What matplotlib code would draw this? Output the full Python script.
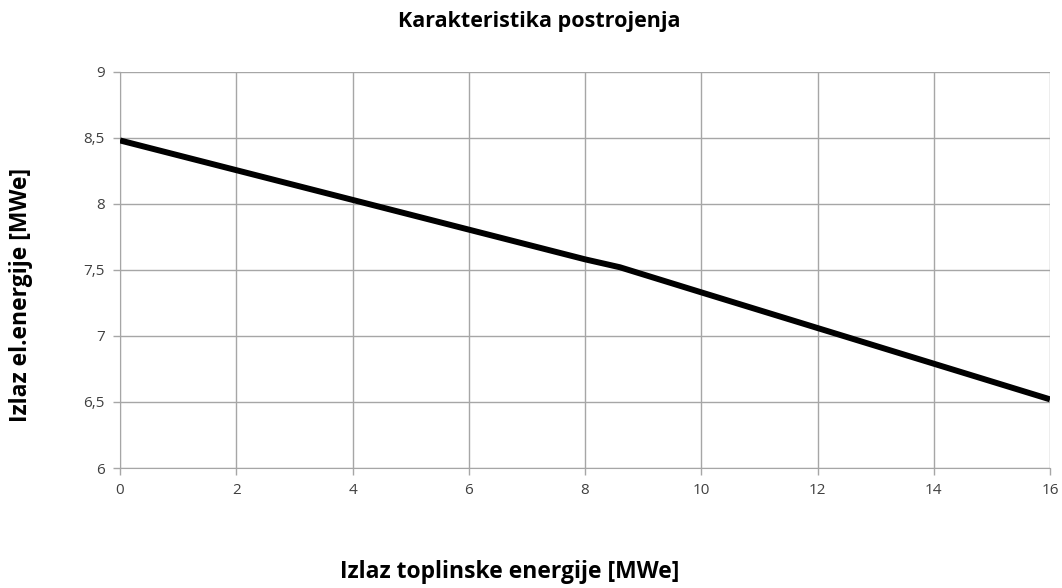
import matplotlib.pyplot as plt
from matplotlib.ticker import FuncFormatter

# Karakteristika postrojenja - ocitane tocke s grafa
toplina = [0, 4, 8, 8.6, 10, 12, 14, 16]
el_energija = [8.48, 8.03, 7.58, 7.52, 7.33, 7.06, 6.79, 6.52]

x_ticks = list(range(0, 17, 2))
y_ticks = [6, 6.5, 7, 7.5, 8, 8.5, 9]

plt.rcParams['font.family'] = ['Open Sans', 'DejaVu Sans']

fig = plt.figure(figsize=(10.62, 5.88), dpi=100)
ax = fig.add_axes([0.113, 0.204, 0.8757, 0.674])

ax.plot(toplina, el_energija, color='black', linewidth=4.3, solid_capstyle='butt', zorder=3)

ax.set_xlim(0, 16)
ax.set_ylim(6, 9)
ax.set_xticks(x_ticks)
ax.set_yticks(y_ticks)
ax.yaxis.set_major_formatter(FuncFormatter(lambda v, p: f"{v:g}".replace('.', ',')))
ax.grid(True, color='#a6a6a6', linewidth=1)
ax.tick_params(colors='#a6a6a6', labelcolor='#404040', labelsize=11, length=5, width=1, pad=6)
for s in ['top', 'right']:
    ax.spines[s].set_visible(False)
for s in ['left', 'bottom']:
    ax.spines[s].set_color('#a6a6a6')

fig.text(0.508, 0.963, "Karakteristika postrojenja", ha='center', va='center',
         fontsize=15.5, fontweight='bold')
fig.text(0.48, 0.027, "Izlaz toplinske energije [MWe]", ha='center', va='center',
         fontsize=16.5, fontweight='bold')
fig.text(0.02, 0.498, "Izlaz el.energije [MWe]", ha='center', va='center',
         rotation=90, fontsize=16.5, fontweight='bold')

plt.savefig("out.png", dpi=100)
